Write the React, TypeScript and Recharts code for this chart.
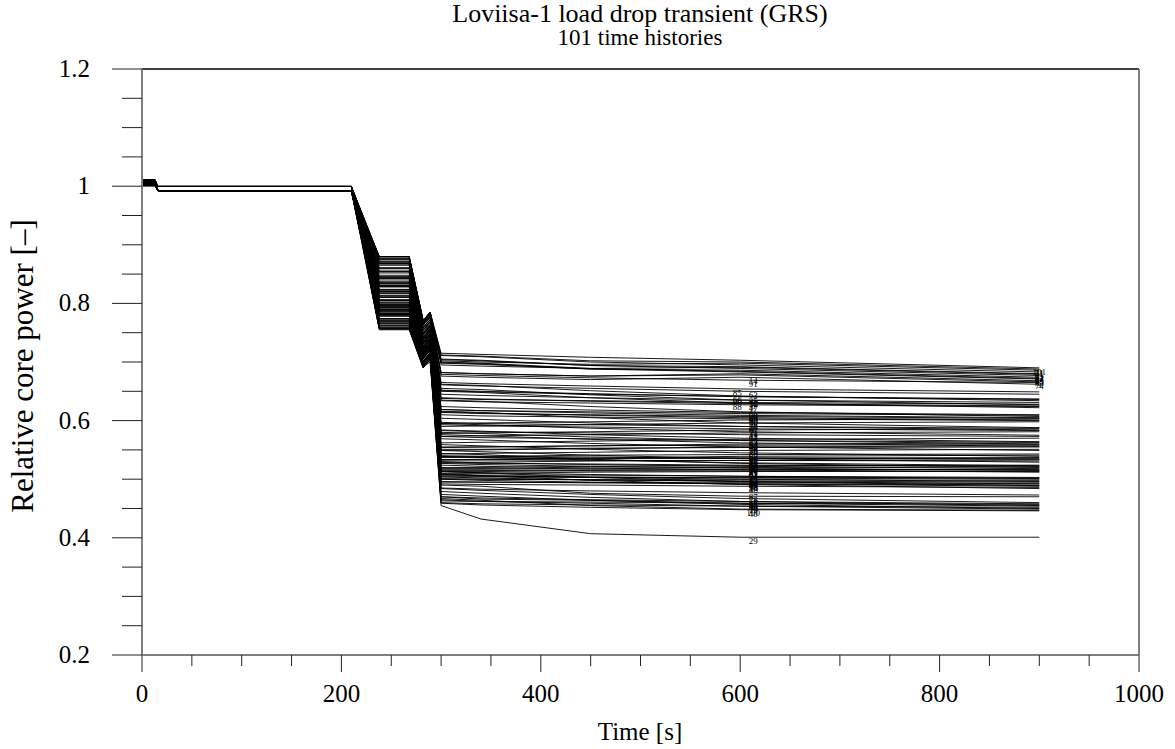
import React from 'react';
import { LineChart, Line, XAxis, YAxis, ReferenceLine } from 'recharts';

// time points (s) at which every history is sampled
const TIMES = [0, 13, 16, 210, 238, 268, 282, 289, 300, 340, 450, 600, 900];

// values per history (index = history number - 1)
const start = [
  1.002, 1.006, 1.010, 1.004, 1.008, 1.001, 1.011, 1.005, 1.003, 1.009,
  1.007, 1.002, 1.010, 1.006, 1.004, 1.008, 1.001, 1.011, 1.005, 1.003,
  1.009, 1.007, 1.002, 1.006, 1.010, 1.004, 1.008, 1.001, 1.011, 1.005,
  1.003, 1.009, 1.007, 1.002, 1.006, 1.010, 1.004, 1.008, 1.001, 1.011,
  1.005, 1.003, 1.009, 1.007, 1.002, 1.006, 1.010, 1.004, 1.008, 1.001,
  1.011, 1.005, 1.003, 1.009, 1.007, 1.002, 1.006, 1.010, 1.004, 1.008,
  1.001, 1.011, 1.005, 1.003, 1.009, 1.007, 1.002, 1.006, 1.010, 1.004,
  1.008, 1.001, 1.011, 1.005, 1.003, 1.009, 1.007, 1.002, 1.006, 1.010,
  1.004, 1.008, 1.001, 1.011, 1.005, 1.003, 1.009, 1.007, 1.002, 1.006,
  1.010, 1.004, 1.008, 1.001, 1.011, 1.005, 1.003, 1.009, 1.007, 1.002,
  1.006,
];

const steady = [
  0.9995, 0.9925, 0.9995, 0.9925, 0.9995, 0.9925, 0.9995, 0.9925, 0.9995, 0.9925,
  0.9995, 0.9925, 0.9995, 0.9925, 0.9995, 0.9925, 0.9995, 0.9925, 0.9995, 0.9925,
  0.9995, 0.9925, 0.9995, 0.9925, 0.9995, 0.9925, 0.9995, 0.9925, 0.9995, 0.9925,
  0.9995, 0.9925, 0.9995, 0.9925, 0.9995, 0.9925, 0.9995, 0.9925, 0.9995, 0.9925,
  0.9995, 0.9925, 0.9995, 0.9925, 0.9995, 0.9925, 0.9995, 0.9925, 0.9995, 0.9925,
  0.9995, 0.9925, 0.9995, 0.9925, 0.9995, 0.9925, 0.9995, 0.9925, 0.9995, 0.9925,
  0.9995, 0.9925, 0.9995, 0.9925, 0.9995, 0.9925, 0.9995, 0.9925, 0.9995, 0.9925,
  0.9995, 0.9925, 0.9995, 0.9925, 0.9995, 0.9925, 0.9995, 0.9925, 0.9995, 0.9925,
  0.9995, 0.9925, 0.9995, 0.9925, 0.9995, 0.9925, 0.9995, 0.9925, 0.9995, 0.9925,
  0.9995, 0.9925, 0.9995, 0.9925, 0.9995, 0.9925, 0.9995, 0.9925, 0.9995, 0.9925,
  0.9995,
];

const plateau = [
  0.831, 0.780, 0.877, 0.805, 0.779, 0.846, 0.805, 0.765, 0.831, 0.801,
  0.868, 0.823, 0.781, 0.870, 0.817, 0.770, 0.855, 0.790, 0.759, 0.831,
  0.795, 0.879, 0.811, 0.789, 0.844, 0.806, 0.760, 0.843, 0.757, 0.790,
  0.835, 0.781, 0.872, 0.811, 0.782, 0.855, 0.797, 0.769, 0.828, 0.757,
  0.875, 0.829, 0.789, 0.823, 0.820, 0.767, 0.848, 0.797, 0.762, 0.840,
  0.787, 0.880, 0.810, 0.783, 0.868, 0.813, 0.806, 0.835, 0.804, 0.785,
  0.829, 0.787, 0.861, 0.820, 0.774, 0.860, 0.794, 0.763, 0.834, 0.798,
  0.880, 0.821, 0.793, 0.859, 0.814, 0.774, 0.852, 0.773, 0.755, 0.843,
  0.783, 0.876, 0.818, 0.787, 0.865, 0.805, 0.778, 0.837, 0.799, 0.792,
  0.872, 0.796, 0.867, 0.824, 0.771, 0.854, 0.801, 0.766, 0.843, 0.756,
  0.880,
];

const p282 = [
  0.739, 0.706, 0.769, 0.723, 0.706, 0.749, 0.723, 0.697, 0.739, 0.720,
  0.763, 0.734, 0.707, 0.765, 0.730, 0.700, 0.755, 0.713, 0.693, 0.739,
  0.716, 0.771, 0.726, 0.712, 0.748, 0.723, 0.693, 0.747, 0.692, 0.713,
  0.742, 0.707, 0.766, 0.726, 0.708, 0.755, 0.717, 0.699, 0.737, 0.691,
  0.768, 0.738, 0.712, 0.734, 0.732, 0.698, 0.750, 0.717, 0.695, 0.745,
  0.711, 0.771, 0.725, 0.708, 0.763, 0.728, 0.723, 0.742, 0.722, 0.710,
  0.738, 0.711, 0.759, 0.732, 0.702, 0.758, 0.715, 0.695, 0.741, 0.718,
  0.771, 0.733, 0.715, 0.758, 0.728, 0.702, 0.752, 0.701, 0.690, 0.747,
  0.708, 0.769, 0.731, 0.711, 0.762, 0.723, 0.705, 0.743, 0.719, 0.714,
  0.766, 0.717, 0.763, 0.735, 0.700, 0.754, 0.720, 0.697, 0.747, 0.690,
  0.771,
];

const p289 = [
  0.753, 0.720, 0.783, 0.737, 0.720, 0.763, 0.737, 0.711, 0.753, 0.734,
  0.777, 0.748, 0.721, 0.779, 0.744, 0.714, 0.769, 0.727, 0.707, 0.753,
  0.730, 0.785, 0.740, 0.726, 0.762, 0.737, 0.707, 0.761, 0.700, 0.727,
  0.756, 0.721, 0.780, 0.740, 0.722, 0.769, 0.731, 0.713, 0.751, 0.705,
  0.782, 0.752, 0.726, 0.748, 0.746, 0.712, 0.764, 0.731, 0.709, 0.759,
  0.725, 0.785, 0.739, 0.722, 0.777, 0.742, 0.737, 0.756, 0.736, 0.724,
  0.752, 0.725, 0.773, 0.746, 0.716, 0.772, 0.729, 0.709, 0.755, 0.732,
  0.785, 0.747, 0.729, 0.772, 0.742, 0.716, 0.766, 0.715, 0.704, 0.761,
  0.722, 0.783, 0.745, 0.725, 0.776, 0.737, 0.719, 0.757, 0.733, 0.728,
  0.780, 0.731, 0.777, 0.749, 0.714, 0.768, 0.734, 0.711, 0.761, 0.704,
  0.785,
];

const p300 = [
  0.604, 0.509, 0.682, 0.555, 0.513, 0.638, 0.537, 0.470, 0.595, 0.530,
  0.711, 0.595, 0.506, 0.676, 0.551, 0.508, 0.634, 0.533, 0.465, 0.590,
  0.527, 0.705, 0.584, 0.501, 0.651, 0.539, 0.484, 0.619, 0.455, 0.539,
  0.578, 0.524, 0.699, 0.580, 0.496, 0.645, 0.533, 0.479, 0.614, 0.459,
  0.702, 0.573, 0.513, 0.616, 0.576, 0.492, 0.639, 0.529, 0.474, 0.610,
  0.518, 0.695, 0.562, 0.508, 0.700, 0.569, 0.540, 0.624, 0.520, 0.544,
  0.597, 0.515, 0.661, 0.554, 0.504, 0.662, 0.559, 0.463, 0.619, 0.517,
  0.712, 0.593, 0.504, 0.682, 0.549, 0.500, 0.655, 0.490, 0.460, 0.615,
  0.513, 0.704, 0.583, 0.500, 0.665, 0.543, 0.485, 0.650, 0.549, 0.528,
  0.679, 0.510, 0.698, 0.573, 0.495, 0.652, 0.533, 0.470, 0.635, 0.467,
  0.715,
];

const p340 = [
  0.602, 0.507, 0.680, 0.555, 0.511, 0.636, 0.537, 0.466, 0.596, 0.528,
  0.709, 0.593, 0.505, 0.674, 0.551, 0.506, 0.632, 0.533, 0.462, 0.591,
  0.525, 0.703, 0.582, 0.500, 0.649, 0.539, 0.481, 0.617, 0.432, 0.537,
  0.579, 0.522, 0.697, 0.578, 0.495, 0.643, 0.533, 0.476, 0.612, 0.456,
  0.700, 0.574, 0.511, 0.614, 0.574, 0.491, 0.637, 0.529, 0.471, 0.608,
  0.518, 0.693, 0.563, 0.506, 0.698, 0.567, 0.539, 0.622, 0.520, 0.542,
  0.595, 0.515, 0.659, 0.555, 0.502, 0.660, 0.557, 0.462, 0.617, 0.517,
  0.710, 0.591, 0.504, 0.680, 0.550, 0.498, 0.653, 0.488, 0.458, 0.613,
  0.513, 0.702, 0.581, 0.500, 0.663, 0.544, 0.483, 0.648, 0.547, 0.527,
  0.677, 0.510, 0.696, 0.571, 0.495, 0.650, 0.534, 0.468, 0.633, 0.464,
  0.713,
];

const p450 = [
  0.596, 0.507, 0.676, 0.557, 0.503, 0.634, 0.536, 0.464, 0.598, 0.525,
  0.700, 0.587, 0.504, 0.670, 0.553, 0.498, 0.630, 0.532, 0.459, 0.593,
  0.522, 0.694, 0.576, 0.499, 0.645, 0.541, 0.474, 0.615, 0.407, 0.533,
  0.581, 0.519, 0.688, 0.572, 0.494, 0.639, 0.535, 0.469, 0.610, 0.452,
  0.696, 0.576, 0.508, 0.605, 0.568, 0.490, 0.633, 0.531, 0.464, 0.606,
  0.517, 0.689, 0.565, 0.503, 0.689, 0.561, 0.538, 0.618, 0.522, 0.534,
  0.593, 0.514, 0.655, 0.557, 0.499, 0.651, 0.551, 0.461, 0.613, 0.519,
  0.702, 0.589, 0.503, 0.676, 0.552, 0.495, 0.644, 0.476, 0.456, 0.609,
  0.515, 0.694, 0.579, 0.499, 0.659, 0.546, 0.480, 0.639, 0.541, 0.526,
  0.673, 0.512, 0.688, 0.569, 0.494, 0.646, 0.536, 0.465, 0.624, 0.455,
  0.708,
];

const p600 = [
  0.590, 0.505, 0.680, 0.558, 0.496, 0.631, 0.536, 0.459, 0.601, 0.522,
  0.695, 0.581, 0.502, 0.674, 0.554, 0.491, 0.627, 0.532, 0.454, 0.596,
  0.519, 0.689, 0.570, 0.497, 0.641, 0.542, 0.467, 0.612, 0.401, 0.528,
  0.584, 0.516, 0.683, 0.566, 0.492, 0.635, 0.536, 0.462, 0.607, 0.448,
  0.698, 0.579, 0.505, 0.596, 0.562, 0.488, 0.629, 0.532, 0.457, 0.603,
  0.517, 0.691, 0.568, 0.500, 0.684, 0.555, 0.536, 0.614, 0.523, 0.527,
  0.590, 0.514, 0.650, 0.560, 0.496, 0.642, 0.545, 0.459, 0.609, 0.520,
  0.700, 0.586, 0.503, 0.678, 0.555, 0.492, 0.635, 0.471, 0.454, 0.605,
  0.516, 0.692, 0.576, 0.499, 0.654, 0.549, 0.477, 0.630, 0.535, 0.524,
  0.669, 0.513, 0.686, 0.566, 0.494, 0.641, 0.539, 0.462, 0.615, 0.449,
  0.703,
];

const p900 = [
  0.584, 0.503, 0.668, 0.559, 0.489, 0.628, 0.535, 0.454, 0.603, 0.518,
  0.683, 0.575, 0.500, 0.662, 0.555, 0.484, 0.624, 0.531, 0.449, 0.598,
  0.515, 0.677, 0.564, 0.495, 0.637, 0.543, 0.460, 0.609, 0.401, 0.523,
  0.586, 0.512, 0.671, 0.560, 0.490, 0.631, 0.537, 0.455, 0.604, 0.446,
  0.686, 0.581, 0.501, 0.588, 0.556, 0.486, 0.625, 0.533, 0.450, 0.600,
  0.516, 0.679, 0.570, 0.496, 0.672, 0.549, 0.534, 0.610, 0.524, 0.520,
  0.587, 0.513, 0.645, 0.562, 0.492, 0.634, 0.539, 0.457, 0.605, 0.521,
  0.688, 0.583, 0.502, 0.666, 0.557, 0.488, 0.627, 0.470, 0.452, 0.601,
  0.517, 0.680, 0.573, 0.498, 0.649, 0.551, 0.473, 0.622, 0.529, 0.522,
  0.665, 0.514, 0.674, 0.563, 0.493, 0.636, 0.541, 0.458, 0.607, 0.447,
  0.690,
];

// which column of values belongs to which time point
const COLUMNS = [start, start, steady, steady, plateau, plateau, p282, p289, p300, p340, p450, p600, p900];

// histories labelled at the end of the run instead of at t = 600 s
const END_LABELS = [3, 11, 22, 33, 41, 52, 55, 71, 74, 82, 93, 101];
const LEFT_LABELS = [85, 66, 88, 96];

const X_TICKS = [0, 50, 100, 150, 200, 250, 300, 350, 400, 450, 500, 550, 600, 650, 700, 750, 800, 850, 900, 950, 1000];
const Y_TICKS = [0.2, 0.25, 0.3, 0.35, 0.4, 0.45, 0.5, 0.55, 0.6, 0.65, 0.7, 0.75, 0.8, 0.85, 0.9, 0.95, 1, 1.05, 1.1, 1.15, 1.2];

const FONT = '"Liberation Serif", "Times New Roman", serif';
const AXIS_GRAY = '#7f7f7f';

const IDS = p900.map((_, i) => i + 1);

const rows = TIMES.map((t, ti) => {
  const row: Record<string, number> = { t };
  IDS.forEach((id) => {
    row['h' + id] = COLUMNS[ti][id - 1];
  });
  return row;
});

const LABEL_T = TIMES.indexOf(600);
const END_T = TIMES.length - 1;

function XTick(props: any) {
  const { x, y, payload } = props;
  const v = payload.value;
  const major = v % 200 === 0;
  return (
    <g>
      <line x1={x} x2={x} y1={y} y2={y + (major ? 17 : 11)} stroke="#222" strokeWidth={1} />
      {major && (
        <text x={x} y={y + 47} textAnchor="middle" fontSize={25} fontFamily={FONT} fill="#000">
          {v}
        </text>
      )}
    </g>
  );
}

function YTick(props: any) {
  const { x, y, payload } = props;
  const v = payload.value;
  const major = Math.abs(v * 5 - Math.round(v * 5)) < 1e-6;
  return (
    <g>
      <line x1={x - (major ? 30 : 20)} x2={x} y1={y} y2={y} stroke="#222" strokeWidth={1} />
      {major && (
        <text x={x - 52} y={y + 8} textAnchor="end" fontSize={25} fontFamily={FONT} fill="#000">
          {String(Math.round(v * 10) / 10)}
        </text>
      )}
    </g>
  );
}

function makeDot(id: number) {
  return (p: any) => {
    const atEnd = END_LABELS.includes(id);
    const idx = atEnd ? END_T : LABEL_T;
    if (p.index !== idx) return <g key={`d${id}-${p.index}`} />;
    const dx = atEnd ? 0 : LEFT_LABELS.includes(id) ? -3 : 13;
    return (
      <text
        key={`d${id}-${p.index}`}
        x={p.cx + dx}
        y={p.cy + 7}
        textAnchor="middle"
        fontSize={9}
        fontFamily={FONT}
        fill="#000"
      >
        {id}
      </text>
    );
  };
}

export default function App() {
  return (
    <div style={{ position: 'absolute', left: 0, top: 0, width: 1175, height: 749, background: '#fff', fontFamily: FONT }}>
      <div style={{ position: 'absolute', left: 140, width: 1000, top: 2, textAlign: 'center', fontSize: 26, lineHeight: '24px', color: '#000' }}>
        Loviisa-1 load drop transient (GRS)
      </div>
      <div style={{ position: 'absolute', left: 140, width: 1000, top: 26, textAlign: 'center', fontSize: 23, lineHeight: '24px', color: '#000' }}>
        101 time histories
      </div>
      <div style={{ position: 'absolute', left: 140, width: 1000, top: 718, textAlign: 'center', fontSize: 25, color: '#000' }}>
        Time [s]
      </div>
      <div
        style={{
          position: 'absolute',
          left: 23 - 200,
          top: 366 - 17,
          width: 400,
          height: 34,
          lineHeight: '34px',
          textAlign: 'center',
          fontSize: 31,
          color: '#000',
          transform: 'rotate(-90deg)',
        }}
      >
        Relative core power [–]
      </div>
      <LineChart width={1175} height={749} data={rows} margin={{ top: 69, right: 36, bottom: 0, left: 0 }}>
        <XAxis
          dataKey="t"
          type="number"
          domain={[0, 1000]}
          ticks={X_TICKS}
          interval={0}
          height={94}
          tickSize={0}
          tickMargin={0}
          tickLine={false}
          axisLine={{ stroke: AXIS_GRAY, strokeWidth: 2 }}
          tick={(p: any) => <XTick {...p} />}
        />
        <YAxis
          type="number"
          domain={[0.2, 1.2]}
          ticks={Y_TICKS}
          interval={0}
          width={142}
          tickSize={0}
          tickMargin={0}
          tickLine={false}
          axisLine={{ stroke: AXIS_GRAY, strokeWidth: 2 }}
          tick={(p: any) => <YTick {...p} />}
        />
        <ReferenceLine y={1.2} stroke="#000" strokeWidth={1.5} />
        <ReferenceLine x={1000} stroke={AXIS_GRAY} strokeWidth={2} />
        {IDS.map((id) => (
          <Line
            key={id}
            dataKey={'h' + id}
            type="linear"
            stroke="#000"
            strokeWidth={0.9}
            dot={makeDot(id)}
            activeDot={false}
            isAnimationActive={false}
          />
        ))}
      </LineChart>
    </div>
  );
}
